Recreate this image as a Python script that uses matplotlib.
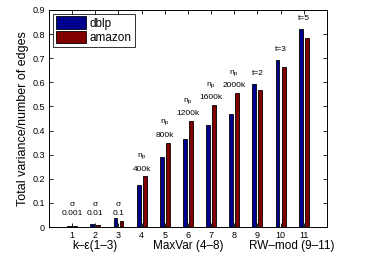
import numpy as np
import matplotlib
matplotlib.use("Agg")
import matplotlib.pyplot as plt

plt.rcParams['font.family'] = ['Liberation Sans', 'DejaVu Sans']

groups = np.arange(1, 12)
dblp = [0.005, 0.012, 0.037, 0.174, 0.29, 0.365, 0.423, 0.469, 0.593, 0.693, 0.82]
amazon = [0.004, 0.010, 0.025, 0.21, 0.35, 0.44, 0.506, 0.556, 0.568, 0.664, 0.784]
sigma_labels = ["0.001", "0.01", "0.1"]
np_labels = ["400k", "800k", "1200k", "1600k", "2000k"]
t_labels = ["t=2", "t=3", "t=5"]
group_names = ["k\u2013\u03b5(1\u20133)", "MaxVar (4\u20138)", "RW\u2013mod (9\u201311)"]
group_centers = [2, 6, 10.5]

fig = plt.figure(figsize=(3.66, 2.56), dpi=100)
ax = fig.add_axes([0.134, 0.113, 0.759, 0.848])

w = 0.17
off = 0.13
ax.bar(groups - off, dblp, w, color='#00008f', edgecolor='black', linewidth=0.6, label='dblp')
ax.bar(groups + off, amazon, w, color='#800000', edgecolor='black', linewidth=0.6, label='amazon')

fs = 6
# k-eps annotations
for i, lab in enumerate(sigma_labels):
    x = groups[i]
    ax.text(x, 0.095, "\u03c3", ha='center', va='center', fontsize=fs)
    ax.text(x, 0.055, lab, ha='center', va='center', fontsize=fs)
# MaxVar annotations
for i, lab in enumerate(np_labels):
    x = groups[3 + i]
    top = max(dblp[3 + i], amazon[3 + i])
    ax.text(x, top + 0.03, lab, ha='center', va='center', fontsize=fs)
    ax.text(x, top + 0.08, "n$_\\mathregular{p}$", ha='center', va='center', fontsize=fs)
# RW-mod annotations
for i, lab in enumerate(t_labels):
    x = groups[8 + i]
    top = max(dblp[8 + i], amazon[8 + i])
    ax.text(x, top + 0.045, lab, ha='center', va='center', fontsize=fs)

for name, c in zip(group_names, group_centers):
    ax.text(c, -0.08, name, ha='center', va='center', fontsize=8.5,
            transform=ax.transData, clip_on=False)

ax.set_xlim(0, 12)
ax.set_ylim(0, 0.9)
ax.set_xticks(groups)
ax.set_xticklabels([str(g) for g in groups])
ax.set_yticks(np.arange(0, 0.91, 0.1))
ax.set_yticklabels(["0"] + ["%.1f" % v for v in np.arange(0.1, 0.91, 0.1)])
ax.tick_params(direction='in', top=True, right=True, labelsize=6.5, length=3, width=0.6, pad=3)
for s in ax.spines.values():
    s.set_linewidth(0.7)
ax.set_ylabel("Total variance/number of edges", fontsize=9, labelpad=2)

leg = ax.legend(loc='upper left', fontsize=8.5, frameon=True, fancybox=False,
                edgecolor='black', handlelength=2.6, handleheight=1.2,
                borderpad=0.25, labelspacing=0.1, handletextpad=0.3,
                borderaxespad=0.3)
leg.get_frame().set_linewidth(0.7)

fig.savefig("out.png", dpi=100)
